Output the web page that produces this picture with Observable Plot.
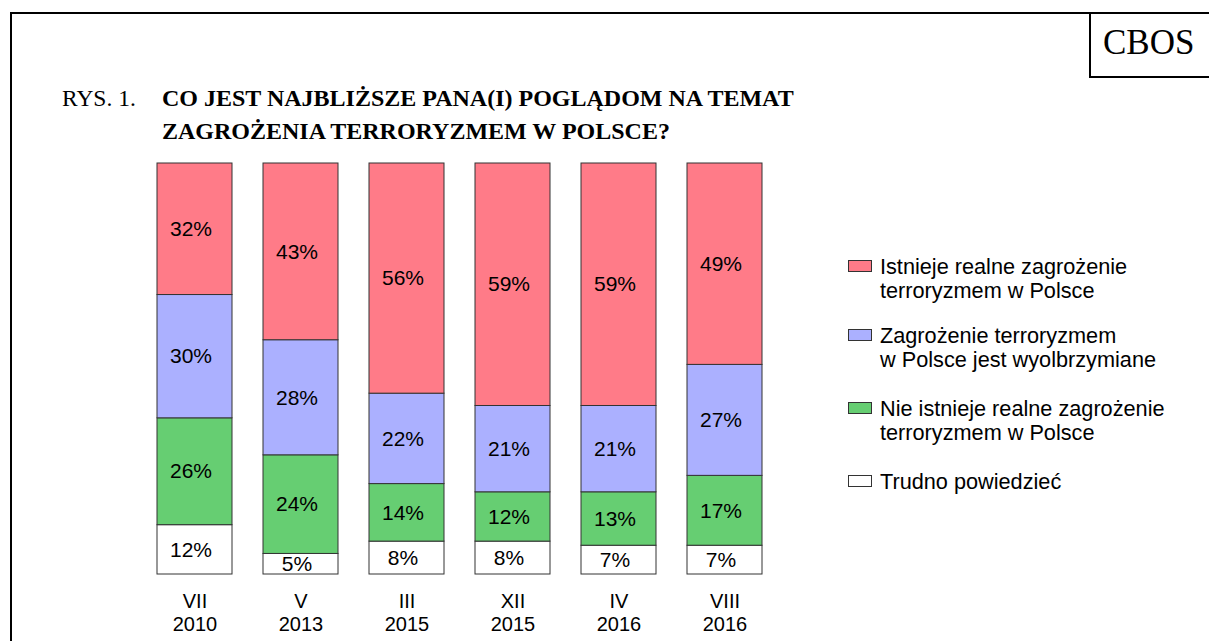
<!DOCTYPE html>
<html>
<head>
<meta charset="utf-8">
<script src="https://cdn.jsdelivr.net/npm/d3@7"></script>
<script src="https://cdn.jsdelivr.net/npm/@observablehq/plot@0.6"></script>
<style>
  html, body { margin: 0; padding: 0; background: #fff; }
  #wrap { position: relative; width: 1209px; height: 641px; overflow: hidden; background: #fff; }
  #frame { position: absolute; left: 10px; top: 12px; width: 1300px; height: 800px; border-left: 2.5px solid #000; border-top: 2.5px solid #000; box-sizing: border-box; }
  #cbos { position: absolute; left: 1089px; top: 12px; width: 200px; height: 66px; border-left: 2px solid #000; border-bottom: 2px solid #000; box-sizing: border-box;
          font-family: "Liberation Serif", "Times New Roman", serif; font-size: 35px; line-height: 62px; padding-left: 12px; color: #000; }
  .title { position: absolute; font-family: "Liberation Serif", "Times New Roman", serif; font-size: 24px; color: #000; line-height: 33px; white-space: nowrap; }
  #rys { left: 62px; top: 82px; font-size: 23.5px; }
  #ttl { left: 162px; top: 82px; font-weight: bold; }
  #chart { position: absolute; left: 0; top: 0; }
  #legend { position: absolute; left: 848px; top: 0; font-family: "Liberation Sans", Arial, sans-serif; font-size: 21.7px; color: #000; }
  .item { position: absolute; left: 0; white-space: nowrap; }
  .sw { position: absolute; left: 0; width: 24px; height: 12px; border: 1px solid #333; box-sizing: border-box; }
  .lt { position: absolute; left: 32px; line-height: 24px; }
</style>
</head>
<body>
<div id="wrap">
  <div id="frame"></div>
  <div id="cbos">CBOS</div>
  <div class="title" id="rys">RYS. 1.</div>
  <div class="title" id="ttl">CO JEST NAJBLIŻSZE PANA(I) POGLĄDOM NA TEMAT<br>ZAGROŻENIA TERRORYZMEM W POLSCE?</div>
  <div id="chart"></div>
  <div id="legend"></div>
</div>
<script>
const dates = ["VII\n2010", "V\n2013", "III\n2015", "XII\n2015", "IV\n2016", "VIII\n2016"];
const categories = [
  "Istnieje realne zagrożenie\nterroryzmem w Polsce",
  "Zagrożenie terroryzmem\nw Polsce jest wyolbrzymiane",
  "Nie istnieje realne zagrożenie\nterroryzmem w Polsce",
  "Trudno powiedzieć"
];
const colors = ["#ff7b88", "#abb0ff", "#66ce72", "#ffffff"];
const istnieje = [32, 43, 56, 59, 59, 49];
const wyolbrzymiane = [30, 28, 22, 21, 21, 27];
const nieIstnieje = [26, 24, 14, 12, 13, 17];
const trudno = [12, 5, 8, 8, 7, 7];

const series = [istnieje, wyolbrzymiane, nieIstnieje, trudno];
// stack bottom-to-top: Trudno, Nie istnieje, Wyolbrzymiane, Istnieje
const rows = [];
for (let c = categories.length - 1; c >= 0; c--) {
  dates.forEach((d, i) => rows.push({date: d, cat: categories[c], value: series[c][i]}));
}

const chart = Plot.plot({
  width: 1209,
  height: 641,
  marginTop: 163,
  marginBottom: 67,
  marginLeft: 123.4,
  marginRight: 414.4,
  style: {background: "transparent", fontFamily: "'Liberation Sans', Arial, sans-serif", overflow: "visible"},
  x: {domain: dates, padding: 0.2964, axis: null},
  y: {domain: [0, 100], axis: null},
  color: {domain: categories, range: colors},
  marks: [
    Plot.barY(rows, Plot.stackY({x: "date", y: "value", z: "cat", fill: "cat", stroke: "#333", strokeWidth: 1, order: null})),
    Plot.text(rows, Plot.stackY({x: "date", y: "value", z: "cat", text: d => d.value + "%", fontSize: 21, fill: "#000", dx: -4, order: null})),
    Plot.text(dates, {x: d => d, text: d => d, frameAnchor: "bottom", lineAnchor: "top", dy: 17, lineHeight: 1.15, fontSize: 20, fill: "#000"})
  ]
});
document.getElementById("chart").appendChild(chart);

// legend
const legend = document.getElementById("legend");
const itemTops = [255, 324, 397, 470];
categories.forEach((c, i) => {
  const item = document.createElement("div");
  item.className = "item";
  item.style.top = itemTops[i] + "px";
  const sw = document.createElement("div");
  sw.className = "sw";
  sw.style.top = "5px";
  sw.style.background = colors[i];
  const lt = document.createElement("div");
  lt.className = "lt";
  lt.style.top = "0px";
  lt.innerHTML = c.replace("\n", "<br>");
  item.appendChild(sw);
  item.appendChild(lt);
  legend.appendChild(item);
});
</script>
</body>
</html>
